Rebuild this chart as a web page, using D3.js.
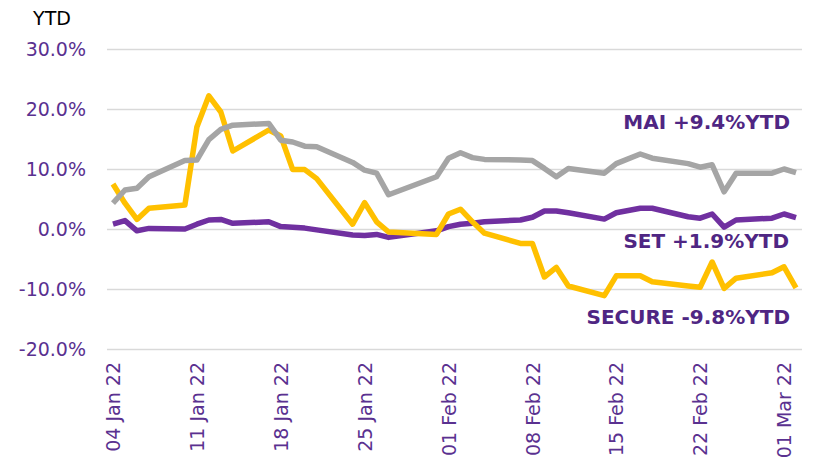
<!DOCTYPE html>
<html>
<head>
<meta charset="utf-8">
<script src="https://cdn.jsdelivr.net/npm/d3@7"></script>
<style>
  body { margin: 0; background: #fff; }
  svg { display: block; font-family: "DejaVu Sans", Verdana, sans-serif; }
</style>
</head>
<body>
<div id="viz"></div>
<script>
// trading days (no data on weekends / holidays)
const dates = [
  "2022-01-04","2022-01-05","2022-01-06","2022-01-07","2022-01-10","2022-01-11","2022-01-12",
  "2022-01-13","2022-01-14","2022-01-17","2022-01-18","2022-01-19","2022-01-20","2022-01-21",
  "2022-01-24","2022-01-25","2022-01-26","2022-01-27","2022-01-31","2022-02-01","2022-02-02",
  "2022-02-03","2022-02-04","2022-02-07","2022-02-08","2022-02-09","2022-02-10","2022-02-11",
  "2022-02-14","2022-02-15","2022-02-17","2022-02-18","2022-02-21","2022-02-22","2022-02-23",
  "2022-02-24","2022-02-25","2022-02-28","2022-03-01","2022-03-02"
];

// YTD return in %
const secureValues = [
  7.5, 4.3, 1.6, 3.45, 4.0, 17.0, 22.2,
  19.5, 13.0, 16.5, 15.5, 9.9, 9.9, 8.4,
  0.8, 4.4, 1.2, -0.5, -0.9, 2.5, 3.3,
  1.2, -0.7, -2.4, -2.4, -8.0, -6.4, -9.5,
  -11.1, -7.8, -7.8, -8.8, -9.5, -9.7, -5.5,
  -9.9, -8.2, -7.3, -6.3, -9.8
];
const maiValues = [
  4.3, 6.5, 6.8, 8.7, 11.4, 11.5, 14.9,
  16.6, 17.3, 17.6, 14.8, 14.5, 13.8, 13.7,
  11.1, 9.8, 9.3, 5.7, 8.7, 11.8, 12.7,
  11.9, 11.6, 11.5, 11.4, 10.1, 8.7, 10.1,
  9.3, 10.9, 12.5, 11.8, 10.9, 10.3, 10.7,
  6.2, 9.3, 9.3, 10.0, 9.4
];
const setValues = [
  0.8, 1.4, -0.3, 0.1, 0.0, 0.8, 1.5,
  1.6, 0.95, 1.2, 0.4, 0.3, 0.15, -0.15,
  -1.0, -1.1, -0.9, -1.4, -0.3, 0.4, 0.8,
  0.95, 1.2, 1.5, 1.95, 3.0, 3.0, 2.7,
  1.65, 2.7, 3.45, 3.45, 2.05, 1.8, 2.5,
  0.3, 1.5, 1.8, 2.5, 1.9
];

const seriesNames = ["SECURE", "MAI", "SET"];
const seriesColors = ["#ffc000", "#a5a5a5", "#7030a0"];
const endLabels = ["SECURE -9.8%YTD", "MAI +9.4%YTD", "SET +1.9%YTD"];

const yTicks = [-20, -10, 0, 10, 20, 30];
const xTickDates = ["2022-01-04","2022-01-11","2022-01-18","2022-01-25","2022-02-01",
                    "2022-02-08","2022-02-15","2022-02-22","2022-03-01"];

const width = 817;
const height = 457;
const fontFam = '"DejaVu Sans", Verdana, sans-serif';
const tickColor = "#5a3190";
const labelColor = "#4f2683";

const parse = d3.utcParse("%Y-%m-%d");
const fmtTick = d3.utcFormat("%d %b %y");

// date axis, each day gets a slot and the point sits in the middle of it
const dayWidth = (802 - 107) / 58;
const x = d3.scaleUtc()
    .domain([parse("2022-01-04"), parse("2022-03-02")])
    .range([107 + dayWidth / 2, 802 - dayWidth / 2]);

const y = d3.scaleLinear()
    .domain([-20, 30])
    .range([349, 49]);

const svg = d3.select("#viz")
    .append("svg")
    .attr("width", width)
    .attr("height", height)
    .attr("viewBox", [0, 0, width, height]);

// gridlines + y labels
const yAxis = d3.axisLeft(y)
    .tickValues(yTicks)
    .tickSize(-(802 - 107))
    .tickPadding(21)
    .tickFormat(d => d.toFixed(1) + "%");

const gy = svg.append("g")
    .attr("transform", "translate(107,0)")
    .call(yAxis)
    .attr("font-family", fontFam)
    .attr("font-size", 19);
gy.select(".domain").remove();
gy.selectAll(".tick line")
    .attr("stroke", "#d9d9d9")
    .attr("stroke-width", 1.5);
gy.selectAll(".tick text")
    .attr("fill", tickColor)
    .attr("dy", "0.35em");

// x labels (rotated)
const xAxis = d3.axisBottom(x)
    .tickValues(xTickDates.map(parse))
    .tickSize(0)
    .tickFormat(fmtTick);

const gx = svg.append("g")
    .attr("transform", "translate(0,349)")
    .call(xAxis)
    .attr("font-family", fontFam)
    .attr("font-size", 19);
gx.select(".domain").remove();
gx.selectAll(".tick text")
    .attr("fill", tickColor)
    .attr("text-anchor", "end")
    .attr("transform", "rotate(-90)")
    .attr("x", -13)
    .attr("y", 0)
    .attr("dy", "0.35em");

// lines
const seriesData = [secureValues, maiValues, setValues].map((vals, i) => ({
  name: seriesNames[i],
  color: seriesColors[i],
  points: vals.map((v, j) => ({ date: parse(dates[j]), value: v }))
}));

const line = d3.line()
    .x(d => x(d.date))
    .y(d => y(d.value));

// purple underneath, gray on top like the picture
const drawOrder = [2, 0, 1];
svg.append("g")
    .selectAll("path")
    .data(drawOrder.map(i => seriesData[i]))
    .join("path")
    .attr("d", d => line(d.points))
    .attr("fill", "none")
    .attr("stroke", d => d.color)
    .attr("stroke-width", 5.5)
    .attr("stroke-linejoin", "round");

// end labels
const labelPos = [ {x: 790, y: 317}, {x: 790, y: 122}, {x: 789, y: 241} ];
svg.append("g")
    .selectAll("text")
    .data(endLabels)
    .join("text")
    .attr("x", (d, i) => labelPos[i].x)
    .attr("y", (d, i) => labelPos[i].y)
    .attr("dy", "0.35em")
    .attr("text-anchor", "end")
    .attr("fill", labelColor)
    .style("font-size", "20px")
    .style("font-weight", "bold")
    .text(d => d);

svg.append("text")
    .attr("x", 52)
    .attr("y", 18)
    .attr("dy", "0.35em")
    .attr("text-anchor", "middle")
    .attr("fill", "#000")
    .style("font-size", "19px")
    .text("YTD");
</script>
</body>
</html>
